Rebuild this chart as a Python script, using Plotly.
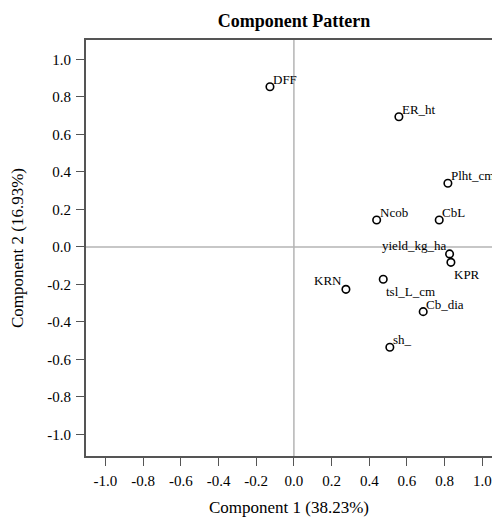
import plotly.graph_objects as go

variables = ["DFF", "ER_ht", "Plht_cm", "Ncob", "CbL", "yield_kg_ha", "KPR",
             "KRN", "tsl_L_cm", "Cb_dia", "sh_"]
comp1 = [-0.127, 0.557, 0.817, 0.439, 0.771, 0.826, 0.833, 0.276, 0.474, 0.686, 0.509]
comp2 = [0.855, 0.695, 0.340, 0.144, 0.144, -0.037, -0.082, -0.226, -0.172, -0.345, -0.535]
label_side = ["ur", "ur", "ur", "ur", "ur", "ul", "lr", "ul", "lr", "ur", "ur"]
tick_vals = [-1.0, -0.8, -0.6, -0.4, -0.2, 0.0, 0.2, 0.4, 0.6, 0.8, 1.0]
tick_text = ["%.1f" % v for v in tick_vals]

font = "'Liberation Serif', 'Times New Roman', serif"
axis_col = "#555555"

fig = go.Figure()
fig.add_hline(y=0, line=dict(color="#b4b4b4", width=1.5), layer="below")
fig.add_vline(x=0, line=dict(color="#b4b4b4", width=1.5), layer="below")
fig.add_trace(go.Scatter(
    x=comp1, y=comp2, mode="markers",
    marker=dict(symbol="circle-open", size=7.5, color="black", line=dict(width=1.6)),
    cliponaxis=False, showlegend=False, hovertext=variables,
))

placement = {
    "ur": dict(xanchor="left", yanchor="bottom", xshift=1, yshift=-2),
    "ul": dict(xanchor="right", yanchor="bottom", xshift=-2, yshift=-1),
    "lr": dict(xanchor="left", yanchor="top", xshift=1, yshift=-3),
}
for name, cx, cy, side in zip(variables, comp1, comp2, label_side):
    fig.add_annotation(x=cx, y=cy, text=name, showarrow=False,
                       font=dict(family=font, size=13, color="black"),
                       **placement[side])

axis_common = dict(
    tickvals=tick_vals, ticktext=tick_text, ticks="outside", ticklen=8,
    tickcolor=axis_col, tickwidth=1.2, showline=True, linecolor=axis_col, linewidth=2,
    showgrid=False, zeroline=False, automargin=False, ticklabelstandoff=2,
    tickfont=dict(family=font, size=15, color="black"),
)
fig.update_layout(
    width=492, height=517,
    margin=dict(l=86, r=0, t=40, b=61),
    paper_bgcolor="white", plot_bgcolor="white",
    title=dict(text="<b>Component Pattern</b>", x=(294 - 86) / (492 - 86), xref="paper",
               xanchor="center", y=1 - 21 / 517, yanchor="middle",
               font=dict(family=font, size=18, color="black")),
    xaxis=dict(range=[-1.103, 1.051], mirror=True,
               title=dict(text="Component 1 (38.23%)", standoff=15,
                          font=dict(family=font, size=17, color="black")),
               **axis_common),
    yaxis=dict(range=[-1.115, 1.104],
               title=dict(text="Component 2 (16.93%)", standoff=19,
                          font=dict(family=font, size=17, color="black")),
               **axis_common),
)
fig.write_html("out.html", post_script="document.body.style.margin='0';",
               config={"displayModeBar": False})
